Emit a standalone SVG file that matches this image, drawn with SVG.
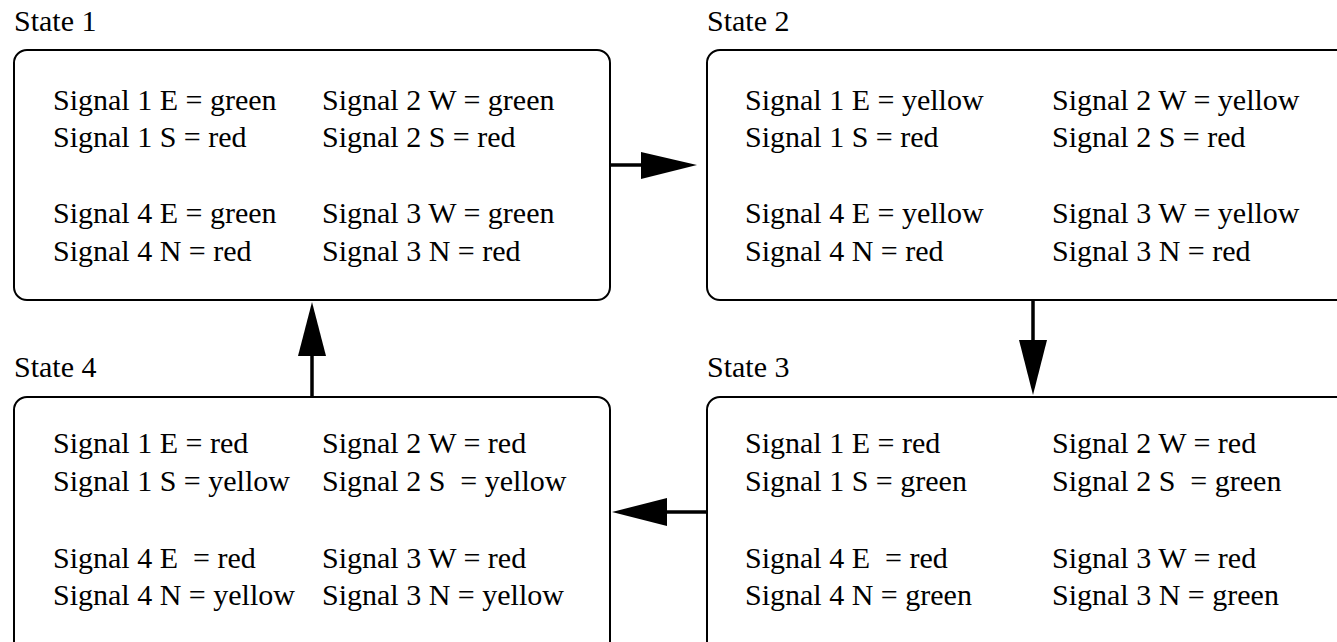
<svg xmlns="http://www.w3.org/2000/svg" width="1337" height="642" viewBox="0 0 1337 642">
<rect width="1337" height="642" fill="#fff"/>
<g id="state1">
<rect x="14" y="50" width="596" height="250" rx="13" fill="#fff" stroke="#000" stroke-width="2"/>
<text x="14" y="31" font-family="Times New Roman" font-size="30">State 1</text>
<text x="53" y="110" font-family="Times New Roman" font-size="30">Signal 1 E = green</text>
<text x="53" y="147" font-family="Times New Roman" font-size="30">Signal 1 S = red</text>
<text x="53" y="223" font-family="Times New Roman" font-size="30">Signal 4 E = green</text>
<text x="53" y="261" font-family="Times New Roman" font-size="30">Signal 4 N = red</text>
<text x="322" y="110" font-family="Times New Roman" font-size="30">Signal 2 W = green</text>
<text x="322" y="147" font-family="Times New Roman" font-size="30">Signal 2 S = red</text>
<text x="322" y="223" font-family="Times New Roman" font-size="30">Signal 3 W = green</text>
<text x="322" y="261" font-family="Times New Roman" font-size="30">Signal 3 N = red</text>
</g>
<g id="state2">
<rect x="707" y="50" width="660" height="250" rx="13" fill="#fff" stroke="#000" stroke-width="2"/>
<text x="707" y="31" font-family="Times New Roman" font-size="30">State 2</text>
<text x="745" y="110" font-family="Times New Roman" font-size="30">Signal 1 E = yellow</text>
<text x="745" y="147" font-family="Times New Roman" font-size="30">Signal 1 S = red</text>
<text x="745" y="223" font-family="Times New Roman" font-size="30">Signal 4 E = yellow</text>
<text x="745" y="261" font-family="Times New Roman" font-size="30">Signal 4 N = red</text>
<text x="1052" y="110" font-family="Times New Roman" font-size="30">Signal 2 W = yellow</text>
<text x="1052" y="147" font-family="Times New Roman" font-size="30">Signal 2 S = red</text>
<text x="1052" y="223" font-family="Times New Roman" font-size="30">Signal 3 W = yellow</text>
<text x="1052" y="261" font-family="Times New Roman" font-size="30">Signal 3 N = red</text>
</g>
<g id="state3">
<rect x="707" y="397" width="660" height="280" rx="13" fill="#fff" stroke="#000" stroke-width="2"/>
<text x="707" y="377" font-family="Times New Roman" font-size="30">State 3</text>
<text x="745" y="453" font-family="Times New Roman" font-size="30">Signal 1 E = red</text>
<text x="745" y="491" font-family="Times New Roman" font-size="30">Signal 1 S = green</text>
<text x="745" y="568" font-family="Times New Roman" font-size="30">Signal 4 E&#160; = red</text>
<text x="745" y="605" font-family="Times New Roman" font-size="30">Signal 4 N = green</text>
<text x="1052" y="453" font-family="Times New Roman" font-size="30">Signal 2 W = red</text>
<text x="1052" y="491" font-family="Times New Roman" font-size="30">Signal 2 S&#160; = green</text>
<text x="1052" y="568" font-family="Times New Roman" font-size="30">Signal 3 W = red</text>
<text x="1052" y="605" font-family="Times New Roman" font-size="30">Signal 3 N = green</text>
</g>
<g id="state4">
<rect x="14" y="397" width="596" height="280" rx="13" fill="#fff" stroke="#000" stroke-width="2"/>
<text x="14" y="377" font-family="Times New Roman" font-size="30">State 4</text>
<text x="53" y="453" font-family="Times New Roman" font-size="30">Signal 1 E = red</text>
<text x="53" y="491" font-family="Times New Roman" font-size="30">Signal 1 S = yellow</text>
<text x="53" y="568" font-family="Times New Roman" font-size="30">Signal 4 E&#160; = red</text>
<text x="53" y="605" font-family="Times New Roman" font-size="30">Signal 4 N = yellow</text>
<text x="322" y="453" font-family="Times New Roman" font-size="30">Signal 2 W = red</text>
<text x="322" y="491" font-family="Times New Roman" font-size="30">Signal 2 S&#160; = yellow</text>
<text x="322" y="568" font-family="Times New Roman" font-size="30">Signal 3 W = red</text>
<text x="322" y="605" font-family="Times New Roman" font-size="30">Signal 3 N = yellow</text>
</g>
<g id="connectors" stroke="#000" stroke-width="3.5">
<line x1="610" y1="165" x2="642" y2="165"/>
<polygon points="641,152 697,165 641,179" fill="#000" stroke="none"/>
<line x1="1033" y1="300" x2="1033" y2="341"/>
<polygon points="1019,340 1047,340 1033,395" fill="#000" stroke="none"/>
<line x1="707" y1="512" x2="666" y2="512"/>
<polygon points="667,498 612,512 667,526" fill="#000" stroke="none"/>
<line x1="312" y1="397" x2="312" y2="355"/>
<polygon points="298,356 326,356 312,302" fill="#000" stroke="none"/>
</g>
</svg>
